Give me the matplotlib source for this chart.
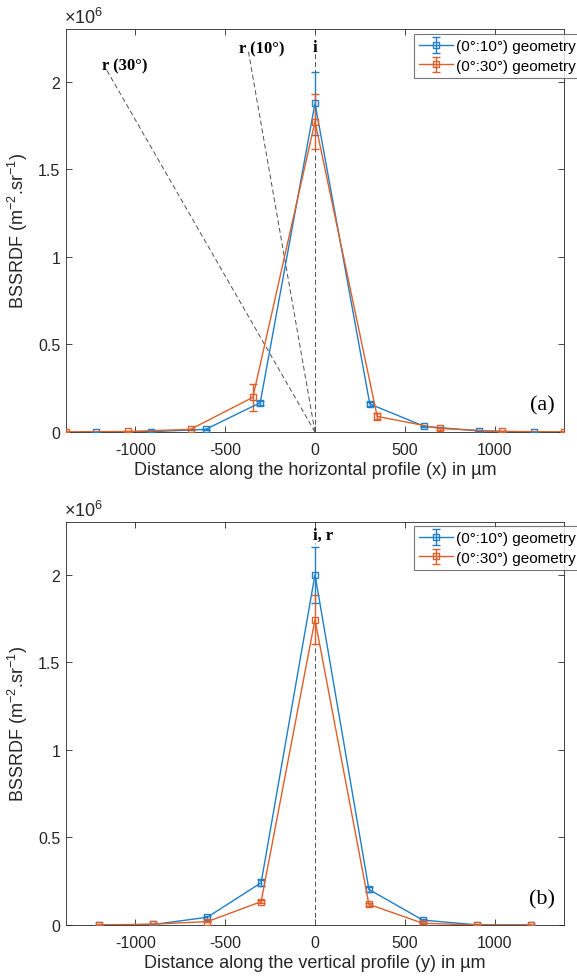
import matplotlib
matplotlib.use("Agg")
import matplotlib.pyplot as plt
from matplotlib.ticker import FuncFormatter

plt.rcParams["font.family"] = ["Liberation Sans", "DejaVu Sans"]
plt.rcParams["mathtext.fontset"] = "custom"
plt.rcParams["mathtext.rm"] = "Liberation Sans"
plt.rcParams["mathtext.it"] = "Liberation Sans:italic"
plt.rcParams["mathtext.bf"] = "Liberation Sans:bold"
plt.rcParams["axes.unicode_minus"] = False

BLUE = "#1f7fc8"
ORANGE = "#de5f2a"
AXC = "#262626"

# ── (a) horizontal profile ──────────────────────────────────────
h_x10 = [-1218, -914, -609, -305, 0, 305, 609, 914, 1218]
h_y10 = [0.000e6, 0.002e6, 0.015e6, 0.167e6, 1.876e6, 0.160e6, 0.032e6, 0.006e6, 0.000e6]
h_e10 = [0.001e6, 0.001e6, 0.004e6, 0.012e6, 0.180e6, 0.010e6, 0.005e6, 0.002e6, 0.001e6]

h_x30 = [-1386, -1039, -693, -346, 0, 346, 693, 1039, 1386]
h_y30 = [0.001e6, 0.003e6, 0.015e6, 0.198e6, 1.772e6, 0.089e6, 0.020e6, 0.003e6, 0.001e6]
h_e30 = [0.001e6, 0.001e6, 0.004e6, 0.078e6, 0.157e6, 0.020e6, 0.007e6, 0.001e6, 0.001e6]

# guide lines (incident / reflected directions)
i_line_x = [0, 0]
i_line_y = [0, 2.17e6]
r10_line_x = [0, -373]
r10_line_y = [0, 2.186e6]
r30_line_x = [0, -1163]
r30_line_y = [0, 2.072e6]

# ── (b) vertical profile ────────────────────────────────────────
v_x = [-1200, -900, -600, -300, 0, 300, 600, 900, 1200]
v_y10 = [0.000e6, 0.003e6, 0.044e6, 0.241e6, 2.000e6, 0.203e6, 0.028e6, 0.001e6, 0.000e6]
v_e10 = [0.001e6, 0.002e6, 0.008e6, 0.020e6, 0.160e6, 0.015e6, 0.006e6, 0.001e6, 0.001e6]
v_y30 = [0.000e6, 0.005e6, 0.019e6, 0.133e6, 1.743e6, 0.118e6, 0.010e6, 0.000e6, 0.000e6]
v_e30 = [0.001e6, 0.002e6, 0.004e6, 0.008e6, 0.140e6, 0.008e6, 0.003e6, 0.001e6, 0.001e6]
ir_line_x = [0, 0]
ir_line_y = [0, 2.18e6]

labels = ["(0°:10°) geometry", "(0°:30°) geometry"]
xticks = [-1000, -500, 0, 500, 1000]
yticks = [0, 0.5e6, 1e6, 1.5e6, 2e6]

fig = plt.figure(figsize=(5.77, 9.78), dpi=100)
W, H = 577, 978


def axes_px(left, top, right, bottom):
    return fig.add_axes([left / W, 1 - bottom / H, (right - left) / W, (bottom - top) / H])


def style(ax, xlabel, legend_top):
    ax.set_xlim(-1386, 1386)
    ax.set_ylim(0, 2.3e6)
    ax.set_xticks(xticks)
    ax.set_yticks(yticks)
    ax.yaxis.set_major_formatter(FuncFormatter(lambda v, _: f"{v / 1e6:g}"))
    ax.tick_params(direction="in", top=True, right=True, length=4, width=0.6,
                   colors=AXC, labelsize=11.5)
    ax.tick_params(axis="x", pad=7)
    ax.tick_params(axis="y", pad=4)
    for s in ax.spines.values():
        s.set_color(AXC)
        s.set_linewidth(0.6)
    ax.set_xlabel(xlabel, fontsize=13, color=AXC, labelpad=3)
    ax.set_ylabel("BSSRDF (m$^{-2}$.sr$^{-1}$)", fontsize=13, color=AXC, labelpad=6)
    ax.text(-0.005, 1.006, r"$\times$10$^{6}$", transform=ax.transAxes,
            ha="left", va="bottom", fontsize=13, color=AXC)
    leg = ax.legend(loc="upper left", bbox_to_anchor=(414 / W, 1 - legend_top / H),
                    bbox_transform=fig.transFigure, borderaxespad=0, fontsize=11,
                    frameon=True, fancybox=False, edgecolor="#555555",
                    handlelength=2.2, handletextpad=0.2, labelspacing=0.35,
                    borderpad=0.35)
    leg.get_frame().set_linewidth(0.8)


def series(ax, x, y, e, color, label):
    ax.errorbar(x, y, yerr=e, color=color, lw=1.0, marker="s", ms=5,
                mfc="none", mec=color, mew=1.0, capsize=3, elinewidth=1.0,
                capthick=1.0, label=label, zorder=3)


serif = dict(family=["Liberation Serif", "DejaVu Serif"], fontweight="bold",
             color="black", fontsize=12)
dash = dict(color="#505050", lw=0.7, ls=(0, (5, 3)), zorder=2)

# top panel
ax1 = axes_px(66, 30, 564, 433)
ax1.plot(i_line_x, i_line_y, **dash)
ax1.plot(r10_line_x, r10_line_y, **dash)
ax1.plot(r30_line_x, r30_line_y, **dash)
series(ax1, h_x10, h_y10, h_e10, BLUE, labels[0])
series(ax1, h_x30, h_y30, h_e30, ORANGE, labels[1])
ax1.text(0, 2.20e6, "i", ha="center", va="center", **serif)
ax1.text(-423, 2.19e6, "r (10°)", ha="left", va="center", **serif)
ax1.text(-1183, 2.095e6, "r (30°)", ha="left", va="center", **serif)
ax1.text(1265, 0.156e6, "(a)", ha="center", va="center",
         family=["Liberation Serif", "DejaVu Serif"], fontsize=16, color="black")
style(ax1, "Distance along the horizontal profile (x) in µm", 35)

# bottom panel
ax2 = axes_px(66, 523, 564, 926)
ax2.plot(ir_line_x, ir_line_y, **dash)
series(ax2, v_x, v_y10, v_e10, BLUE, labels[0])
series(ax2, v_x, v_y30, v_e30, ORANGE, labels[1])
ax2.text(-12, 2.225e6, "i, r", ha="left", va="center", **serif)
ax2.text(1265, 0.152e6, "(b)", ha="center", va="center",
         family=["Liberation Serif", "DejaVu Serif"], fontsize=16, color="black")
style(ax2, "Distance along the vertical profile (y) in µm", 527)

fig.savefig("out.png", dpi=100)
plt.close(fig)
